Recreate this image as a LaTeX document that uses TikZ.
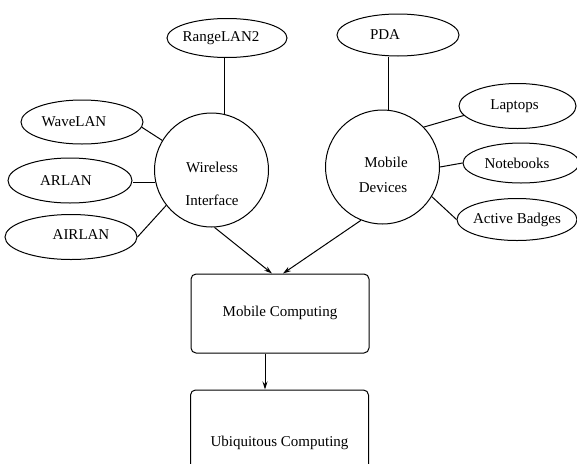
\documentclass[tikz,border=0pt]{standalone}
\usepackage{fontspec}
\setmainfont{Liberation Serif}
\usetikzlibrary{shapes.geometric,arrows.meta}
\begin{document}
\begin{tikzpicture}[x=1pt,y=-1pt,
  every node/.style={font=\fontsize{15}{18}\selectfont},
  oval/.style={draw, ellipse, inner sep=0pt, line width=1pt},
  hub/.style={draw, circle, minimum size=114pt, inner sep=0pt, line width=1pt},
  box/.style={draw, rounded corners=5pt, minimum width=178pt, inner sep=0pt, line width=1pt},
  link/.style={line width=1pt},
  flow/.style={line width=1pt, -{Stealth[length=8pt,width=5pt]}}]
\useasboundingbox (0,0) rectangle (577,463);
\clip (0,0) rectangle (577,463);

% central hubs
\node[hub] (wi) at (211.5,170) {};
\node[align=center] (wit) at (212,183.5) {Wireless\\[15pt]Interface};
\node[hub] (md) at (382.5,167) {};
\node[align=center] (mdt) at (383,174.5) {\hspace*{6pt}Mobile\\[7pt]Devices};

% wireless technologies
\node[oval, minimum width=120pt, minimum height=39pt,
  label={[name=rlt, xshift=-6pt]center:RangeLAN2}] (rl) at (227,38) {};
\node[oval, minimum width=122pt, minimum height=44pt,
  label={[name=wlt, xshift=-8pt]center:WaveLAN}] (wl) at (82,122) {};
\node[oval, minimum width=124pt, minimum height=45pt,
  label={[name=art, xshift=-4pt]center:ARLAN}] (ar) at (70,180.5) {};
\node[oval, minimum width=132pt, minimum height=45pt,
  label={[name=ait, xshift=10pt, yshift=2pt]center:AIRLAN}] (ai) at (71,237) {};

% mobile device kinds
\node[oval, minimum width=122pt, minimum height=42pt,
  label={[name=pdat, xshift=-13pt]center:PDA}] (pda) at (398,35) {};
\node[oval, minimum width=117pt, minimum height=45pt,
  label={[name=lpt, xshift=-3pt]center:Laptops}] (lp) at (517.5,106) {};
\node[oval, minimum width=116pt, minimum height=40pt,
  label={[name=nbt, xshift=-4pt]center:Notebooks}] (nb) at (521,163) {};
\node[oval, minimum width=120pt, minimum height=42pt,
  label={[name=abt]center:Active Badges}] (ab) at (517,219.5) {};

% computing layers
\node[box, minimum height=79pt] (mc) at (280,313.5) {\raisebox{4.5pt}{Mobile Computing}};
\node[box, minimum height=110pt] (ub) at (279.5,445) {\raisebox{8pt}{Ubiquitous Computing}};

% spokes
\draw[link] (wi.77) -- (wi.77 |- rl.south);
\draw[link] (wl.-5) -- (wi.149);
\draw[link] (wi.193) -- (wi.193 -| ar.east);
\draw[link] (ai.east) -- (wi.218);
\draw[link] (md.84) -- (md.84 |- pda.south);
\draw[link] (md.44) -- (lp.190);
\draw[link] (md.0) -- (nb.west);
\draw[link] (md.-31) -- (ab.west);

% flow downwards
\draw[flow] (wi.-87) -- ([xshift=-8pt]mc.north);
\draw[flow] (md.248) -- ([xshift=3pt]mc.north);
\draw[flow] ([xshift=-15pt]mc.south) -- ([xshift=-15pt]mc.south |- ub.north);
\end{tikzpicture}
\end{document}
